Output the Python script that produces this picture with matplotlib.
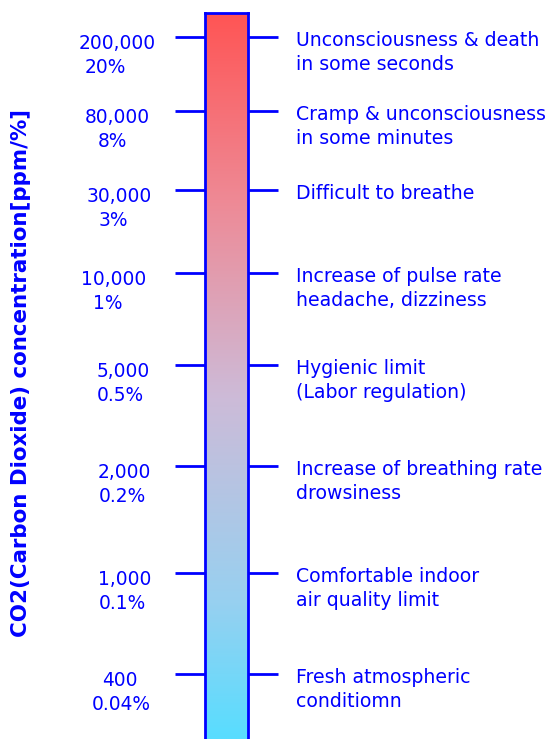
import numpy as np
import matplotlib
matplotlib.use("Agg")
import matplotlib.pyplot as plt
from matplotlib.colors import LinearSegmentedColormap
from matplotlib import transforms

# CO2 levels (ppm / percent) and their effects, bottom to top
ppm_labels = ["400", "1,000", "2,000", "5,000", "10,000", "30,000", "80,000", "200,000"]
pct_labels = ["0.04%", "0.1%", "0.2%", "0.5%", "1%", "3%", "8%", "20%"]
effects = [
    "Fresh atmospheric\nconditiomn",
    "Comfortable indoor\nair quality limit",
    "Increase of breathing rate\ndrowsiness",
    "Hygienic limit\n(Labor regulation)",
    "Increase of pulse rate\nheadache, dizziness",
    "Difficult to breathe",
    "Cramp & unconsciousness\nin some minutes",
    "Unconsciousness & death\nin some seconds",
]
# where each level sits on the bar (pixels from the top of the picture)
level_y = [674, 573, 466, 365, 273, 190, 111, 37]

# horizontal centres of the two left text lines (pixels)
ppm_cx = [120, 125, 124, 123, 114, 119, 117, 117]
pct_cx = [121, 122, 122, 120, 108, 113, 112, 105]

W, H = 553, 739
blue = "#0000ff"
font = "DejaVu Sans"

fig = plt.figure(figsize=(W / 100, H / 100), dpi=100)
ax = fig.add_axes([205 / W, 0, 43 / W, (H - 13) / H])
ax.set_xlim(0, 1)
ax.set_ylim(H, 13)

cmap = LinearSegmentedColormap.from_list(
    "co2",
    [(0.0, "#ff5555"), (0.26, "#ee8a96"), (0.53, "#cdbbd8"),
     (0.81, "#98d0f0"), (1.0, "#58ddff")],
)
grad = np.linspace(0, 1, 512).reshape(-1, 1)
ax.imshow(grad, cmap=cmap, aspect="auto", extent=[0, 1, H, 13],
          interpolation="bilinear")

for side in ["left", "right", "top"]:
    ax.spines[side].set_color(blue)
    ax.spines[side].set_linewidth(2)
ax.spines["bottom"].set_visible(False)

ax.set_xticks([])
ax.set_yticks(level_y)
ax.tick_params(axis="y", left=True, right=True, labelleft=False,
               length=21.5, width=2, color=blue)

trans = transforms.blended_transform_factory(fig.transFigure, ax.transData)
for y, p, c, px, cx, eff in zip(level_y, ppm_labels, pct_labels, ppm_cx, pct_cx, effects):
    ax.text(px / W, y + 12, p, transform=trans, ha="center", va="baseline",
            color=blue, fontsize=13.4, family=font, clip_on=False)
    ax.text(cx / W, y + 36, c, transform=trans, ha="center", va="baseline",
            color=blue, fontsize=13.4, family=font, clip_on=False)
    for i, line in enumerate(eff.split("\n")):
        ax.text(296 / W, y + 9 + 24 * i, line, transform=trans, ha="left",
                va="baseline", color=blue, fontsize=13.6, family=font,
                clip_on=False)

fig.text(21 / W, 1 - 373 / H, "CO2(Carbon Dioxide) concentration[ppm/%]",
         rotation=90, ha="center", va="center", color=blue,
         fontsize=15.4, fontweight="bold", family=font)

fig.savefig("out.png", dpi=100)
